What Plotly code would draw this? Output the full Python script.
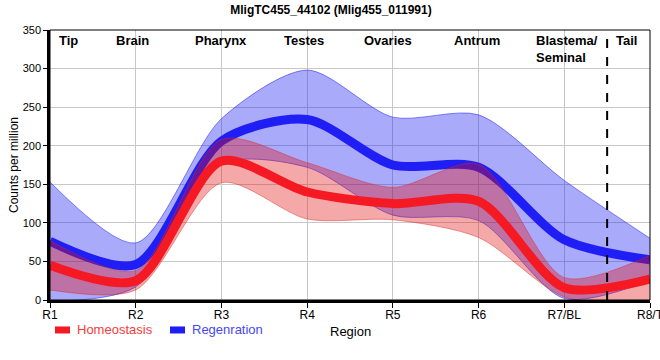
import plotly.graph_objects as go

regions = ["R1", "R2", "R3", "R4", "R5", "R6", "R7/BL", "R8/T"]
homeo_mean = [45, 25, 180, 140, 125, 128, 16, 27]
homeo_lower = [13, 13, 152, 105, 104, 81, 4, -5]
homeo_upper = [77, 38, 208, 178, 146, 176, 29, 58]
regen_mean = [76, 46, 206, 234, 175, 172, 78, 52]
regen_lower = [-2, 17, 176, 172, 110, 103, 2, 25]
regen_upper = [153, 74, 235, 298, 237, 240, 155, 80]

section_labels = ["Tip", "Brain", "Pharynx", "Testes", "Ovaries", "Antrum", "Blastema/<br>Seminal", "Tail"]
section_pos = [0.22, 0.96, 2.0, 2.96, 3.94, 4.98, 5.65, 6.73]
y_ticks = [0, 50, 100, 150, 200, 250, 300, 350]

x = list(range(len(regions)))

blue_line = "rgb(30,30,245)"
red_line = "rgb(245,25,35)"
blue_fill = "rgba(20,20,240,0.36)"
red_fill = "rgba(225,15,15,0.36)"
blue_edge = "rgba(40,40,240,0.55)"
red_edge = "rgba(215,40,40,0.45)"
SM = 0.8

fig = go.Figure()

def band(upper, lower, fill, edge):
    fig.add_trace(go.Scatter(x=x, y=upper, mode="lines",
                             line=dict(color=edge, width=1, shape="spline", smoothing=SM),
                             showlegend=False, hoverinfo="skip"))
    fig.add_trace(go.Scatter(x=x, y=lower, mode="lines",
                             line=dict(color=edge, width=1, shape="spline", smoothing=SM),
                             fill="tonexty", fillcolor=fill, showlegend=False, hoverinfo="skip"))

band(regen_upper, regen_lower, blue_fill, blue_edge)
fig.add_trace(go.Scatter(x=x, y=regen_mean, mode="lines", name="Regenration",
                         line=dict(color=blue_line, width=9, shape="spline", smoothing=SM), showlegend=False))
band(homeo_upper, homeo_lower, red_fill, red_edge)
fig.add_trace(go.Scatter(x=x, y=homeo_mean, mode="lines", name="Homeostasis",
                         line=dict(color=red_line, width=9, shape="spline", smoothing=SM), showlegend=False))

annotations = []
for lab, pos in zip(section_labels, section_pos):
    two = "<br>" in lab
    annotations.append(dict(x=pos, y=0.995, xref="x", yref="paper", text="<b>" + lab + "</b>",
                            showarrow=False, xanchor="left" if two else "center", yanchor="top",
                            align="left", font=dict(size=13, color="black", family="Arial")))

annotations += [
    dict(x=0.5, y=-0.115, xref="paper", yref="paper", text="Region", showarrow=False,
         font=dict(size=13, color="black", family="Arial"), xanchor="center", yanchor="middle"),
    dict(x=-0.06, y=0.5, xref="paper", yref="paper", text="Counts per million", showarrow=False,
         textangle=-90, font=dict(size=12, color="black", family="Arial"), xanchor="center", yanchor="middle"),
    dict(x=(75 - 50) / 600, y=-0.111, xref="paper", yref="paper", text="Homeostasis", showarrow=False,
         font=dict(size=13, color="rgb(245,60,60)", family="Arial"), xanchor="left", yanchor="middle"),
    dict(x=(190 - 50) / 600, y=-0.111, xref="paper", yref="paper", text="Regenration", showarrow=False,
         font=dict(size=13, color="rgb(70,70,245)", family="Arial"), xanchor="left", yanchor="middle"),
]

shapes = [
    dict(type="line", x0=6.5, x1=6.5, y0=0, y1=1, xref="x", yref="paper",
         line=dict(color="black", width=2, dash="dash")),
    dict(type="rect", x0=0, x1=1, y0=0, y1=1, xref="paper", yref="paper",
         line=dict(color="black", width=1)),
    dict(type="rect", x0=(55 - 50) / 600, x1=(70 - 50) / 600, y0=-0.098, y1=-0.124, xref="paper", yref="paper",
         line=dict(width=0), fillcolor=red_line),
    dict(type="rect", x0=(170 - 50) / 600, x1=(185 - 50) / 600, y0=-0.098, y1=-0.124, xref="paper", yref="paper",
         line=dict(width=0), fillcolor=blue_line),
]

fig.update_layout(
    width=660, height=360,
    margin=dict(l=50, r=10, t=30, b=60),
    paper_bgcolor="white", plot_bgcolor="white",
    title=dict(text="<b>MligTC455_44102 (Mlig455_011991)</b>", x=331 / 660, xanchor="center",
               y=1 - 10 / 360, yanchor="middle", font=dict(size=12, color="black", family="Arial")),
    font=dict(family="Arial", color="black"),
    annotations=annotations,
    shapes=shapes,
    showlegend=False,
)
fig.update_xaxes(range=[0, 7], tickvals=x, ticktext=regions, showgrid=True, gridcolor="rgb(200,200,200)",
                 gridwidth=1, showline=True, linecolor="black", linewidth=2.5, ticks="outside", ticklen=5,
                 tickcolor="black", tickfont=dict(size=12, color="black"), zeroline=False,
                 automargin=False, ticklabelstandoff=-3, ticklabeloverflow="allow")
fig.update_yaxes(range=[0, 350], tickvals=y_ticks, showgrid=True, gridcolor="rgb(200,200,200)",
                 gridwidth=1, showline=True, linecolor="black", linewidth=2.5, ticks="outside", ticklen=4,
                 tickcolor="black", tickfont=dict(size=11, color="black"), zeroline=False,
                 automargin=False)

fig.write_html("out.html", config={"displayModeBar": False},
               post_script="document.body.style.margin='0';")
